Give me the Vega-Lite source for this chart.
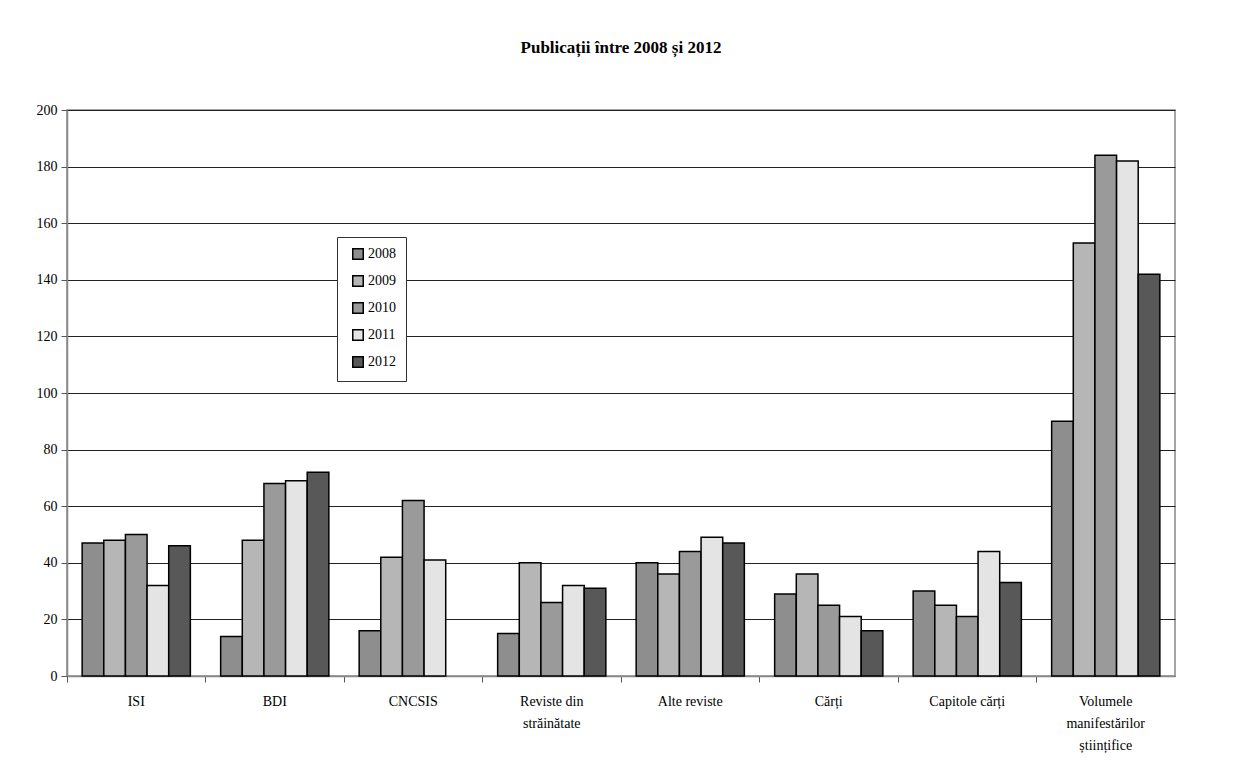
{
  "$schema": "https://vega.github.io/schema/vega-lite/v6.json",
  "autosize": "none",
  "width": 1108,
  "height": 566,
  "padding": {"left": 67, "top": 110, "right": 84, "bottom": 101},
  "background": "white",
  "title": {
    "text": "Publicații între 2008 și 2012",
    "font": "Liberation Serif",
    "fontSize": 17,
    "fontWeight": "bold",
    "color": "#000",
    "offset": 46
  },
  "data": {
    "values": [
      {"cat": "ISI", "year": "2008", "n": 47},
      {"cat": "ISI", "year": "2009", "n": 48},
      {"cat": "ISI", "year": "2010", "n": 50},
      {"cat": "ISI", "year": "2011", "n": 32},
      {"cat": "ISI", "year": "2012", "n": 46},
      {"cat": "BDI", "year": "2008", "n": 14},
      {"cat": "BDI", "year": "2009", "n": 48},
      {"cat": "BDI", "year": "2010", "n": 68},
      {"cat": "BDI", "year": "2011", "n": 69},
      {"cat": "BDI", "year": "2012", "n": 72},
      {"cat": "CNCSIS", "year": "2008", "n": 16},
      {"cat": "CNCSIS", "year": "2009", "n": 42},
      {"cat": "CNCSIS", "year": "2010", "n": 62},
      {"cat": "CNCSIS", "year": "2011", "n": 41},
      {"cat": "Reviste din|străinătate", "year": "2008", "n": 15},
      {"cat": "Reviste din|străinătate", "year": "2009", "n": 40},
      {"cat": "Reviste din|străinătate", "year": "2010", "n": 26},
      {"cat": "Reviste din|străinătate", "year": "2011", "n": 32},
      {"cat": "Reviste din|străinătate", "year": "2012", "n": 31},
      {"cat": "Alte reviste", "year": "2008", "n": 40},
      {"cat": "Alte reviste", "year": "2009", "n": 36},
      {"cat": "Alte reviste", "year": "2010", "n": 44},
      {"cat": "Alte reviste", "year": "2011", "n": 49},
      {"cat": "Alte reviste", "year": "2012", "n": 47},
      {"cat": "Cărți", "year": "2008", "n": 29},
      {"cat": "Cărți", "year": "2009", "n": 36},
      {"cat": "Cărți", "year": "2010", "n": 25},
      {"cat": "Cărți", "year": "2011", "n": 21},
      {"cat": "Cărți", "year": "2012", "n": 16},
      {"cat": "Capitole cărți", "year": "2008", "n": 30},
      {"cat": "Capitole cărți", "year": "2009", "n": 25},
      {"cat": "Capitole cărți", "year": "2010", "n": 21},
      {"cat": "Capitole cărți", "year": "2011", "n": 44},
      {"cat": "Capitole cărți", "year": "2012", "n": 33},
      {"cat": "Volumele|manifestărilor|științifice", "year": "2008", "n": 90},
      {"cat": "Volumele|manifestărilor|științifice", "year": "2009", "n": 153},
      {"cat": "Volumele|manifestărilor|științifice", "year": "2010", "n": 184},
      {"cat": "Volumele|manifestărilor|științifice", "year": "2011", "n": 182},
      {"cat": "Volumele|manifestărilor|științifice", "year": "2012", "n": 142}
    ]
  },
  "mark": {"type": "bar", "stroke": "#000", "strokeWidth": 1.5},
  "encoding": {
    "x": {
      "field": "cat",
      "type": "nominal",
      "sort": null,
      "scale": {"paddingInner": 0, "paddingOuter": 0},
      "axis": {
        "title": null,
        "labelAngle": 0,
        "labelExpr": "split(datum.value, '|')",
        "bandPosition": 0,
        "ticks": true,
        "tickSize": 6,
        "tickColor": "#555",
        "domainColor": "#888",
        "labelFont": "Liberation Serif",
        "labelFontSize": 14,
        "labelColor": "#000",
        "labelPadding": 12,
        "labelLineHeight": 22,
        "grid": false
      }
    },
    "xOffset": {
      "field": "year",
      "type": "nominal",
      "scale": {"domain": ["2008", "2009", "2010", "2011", "2012"], "paddingInner": 0, "paddingOuter": 0.7}
    },
    "y": {
      "field": "n",
      "type": "quantitative",
      "scale": {"domain": [0, 200], "nice": false},
      "axis": {
        "title": null,
        "values": [0, 20, 40, 60, 80, 100, 120, 140, 160, 180, 200],
        "labelFont": "Liberation Serif",
        "labelFontSize": 14,
        "labelColor": "#000",
        "labelPadding": 4,
        "tickSize": 6,
        "tickColor": "#555",
        "domainColor": "#888",
        "gridColor": "#222",
        "gridWidth": 1
      }
    },
    "fill": {
      "field": "year",
      "type": "nominal",
      "scale": {
        "domain": ["2008", "2009", "2010", "2011", "2012"],
        "range": ["#8e8e8e", "#b6b6b6", "#9a9a9a", "#e4e4e4", "#585858"]
      },
      "legend": {
        "title": null,
        "orient": "none",
        "legendX": 270,
        "legendY": 127,
        "direction": "vertical",
        "symbolType": "square",
        "symbolSize": 110,
        "symbolStrokeColor": "#000",
        "symbolStrokeWidth": 1.5,
        "symbolOffset": 4,
        "labelFont": "Liberation Serif",
        "labelFontSize": 14,
        "labelColor": "#000",
        "rowPadding": 9,
        "padding": 10,
        "strokeColor": "#333",
        "fillColor": "white",
        "labelOffset": 3
      }
    }
  },
  "config": {
    "view": {"stroke": "#888", "strokeWidth": 1.5},
    "axis": {"domainWidth": 1.5}
  }
}
